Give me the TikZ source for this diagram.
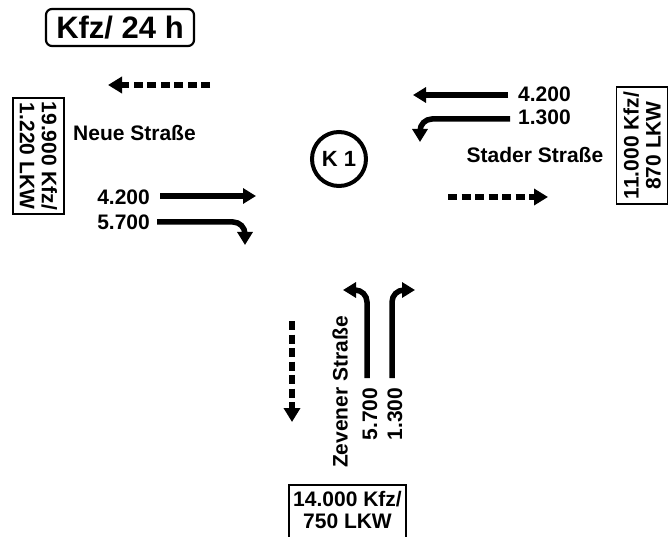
\documentclass[tikz,border=0pt]{standalone}
\usepackage{fontspec}
\setmainfont{Liberation Sans}
\usetikzlibrary{arrows.meta}
\begin{document}
\begin{tikzpicture}[x=1pt,y=1pt,
  lbl/.style={font=\fontsize{21}{22}\selectfont\bfseries, inner sep=0pt},
  flow/.style={line width=5.5pt, -{Triangle[width=15pt,length=13pt]}},
  turn/.style={flow, rounded corners=12pt},
  ret/.style={line width=5.5pt, dash pattern=on 9pt off 4.5pt, -{Triangle[width=16pt,length=14pt]}},
  sumbox/.style={draw, line width=1.8pt, inner sep=0pt, align=center,
    font=\fontsize{21}{22}\selectfont\bfseries}]
\useasboundingbox (0,0) rectangle (669,-537);

% title
\node[draw, rounded corners=6pt, line width=2.2pt, inner sep=0pt,
  minimum width=148pt, minimum height=37pt,
  font=\fontsize{31}{34}\selectfont\bfseries] (title) at (120,-27.5) {Kfz/ 24 h};

% junction
\node[draw, circle, line width=4pt, minimum size=54pt, inner sep=0pt,
  font=\fontsize{22}{24}\selectfont\bfseries] (k1) at (339,-159) {K 1};

% summary boxes
\node[sumbox, rotate=-90, minimum width=116pt, minimum height=51pt] (bl) at (38.5,-156) {19.900 Kfz/\\1.220 LKW};
\node[sumbox, rotate=90, minimum width=117pt, minimum height=51pt] (br) at (642,-145.5) {11.000 Kfz/\\870 LKW};
\node[draw, line width=1.8pt, minimum width=117pt, minimum height=60pt] (bb) at (347.5,-515) {};
\node[sumbox, draw=none] (bbt) at (347.5,-510) {14.000 Kfz/\\750 LKW};

% street names
\node[lbl, anchor=west] (neue) at (73,-133) {Neue Straße};
\node[lbl] (stader) at (535,-155) {Stader Straße};
\node[lbl, rotate=90] (zev) at (340,-392) {Zevener Straße};

% volumes
\node[lbl, anchor=east] (wa) at (150,-197.5) {4.200};
\node[lbl, anchor=east] (wb) at (150,-222.5) {5.700};
\node[lbl, anchor=west] (ea) at (518,-94.5) {4.200};
\node[lbl, anchor=west] (eb) at (518,-117.5) {1.300};
\node[lbl, rotate=90] (sa) at (370,-414) {5.700};
\node[lbl, rotate=90] (sb) at (395,-414) {1.300};

% arrow end points
\coordinate (wa1) at (160,-196);  \coordinate (wa2) at (256,-196);
\coordinate (wb1) at (157,-222);  \coordinate (wbc) at (245,-222); \coordinate (wb2) at (245,-245);
\coordinate (ea1) at (508,-95);   \coordinate (ea2) at (413,-95);
\coordinate (eb1) at (510,-119);  \coordinate (ebc) at (420,-119); \coordinate (eb2) at (420,-142);
\coordinate (sa1) at (367,-378);  \coordinate (sac) at (367,-290); \coordinate (sa2) at (343,-290);
\coordinate (sb1) at (392,-378);  \coordinate (sbc) at (392,-290); \coordinate (sb2) at (415,-290);
\coordinate (rw1) at (210,-85);   \coordinate (rw2) at (108,-85);
\coordinate (re1) at (448,-197);  \coordinate (re2) at (548,-197);
\coordinate (rs1) at (292,-321);  \coordinate (rs2) at (292,-422);

% flows
\draw[flow] (wa1) -- (wa2);
\draw[turn] (wb1) -- (wbc) -- (wb2);
\draw[flow] (ea1) -- (ea2);
\draw[turn] (eb1) -- (ebc) -- (eb2);
\draw[turn] (sa1) -- (sac) -- (sa2);
\draw[turn] (sb1) -- (sbc) -- (sb2);

% outgoing (dashed)
\draw[ret] (rw1) -- (rw2);
\draw[ret] (re1) -- (re2);
\draw[ret] (rs1) -- (rs2);
\end{tikzpicture}
\end{document}
